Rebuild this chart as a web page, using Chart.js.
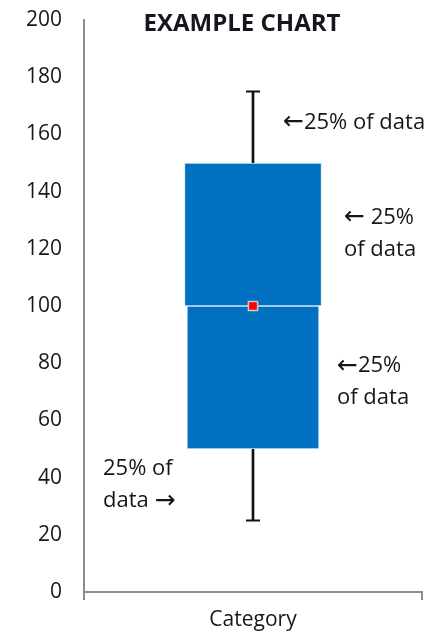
<!DOCTYPE html>
<html>
<head>
<meta charset="utf-8">
<script src="https://cdn.jsdelivr.net/npm/chart.js@4"></script>
<style>
  html, body { margin: 0; padding: 0; background: #fff; }
  #wrap { width: 448px; height: 636px; position: relative; }
</style>
</head>
<body>
<div id="wrap"><canvas id="chart"></canvas></div>
<script>
// Box plot example, drawn with floating bars + point markers

// --- Data
const categories = ["Category"];
const whiskerRange = [[25, 175]];   // min .. max
const upperBox = [[100, 150]];      // median .. Q3
const lowerBox = [[50, 100]];       // Q1 .. median
const capValues = [25, 175];        // whisker ends
const medianValues = [100];
const yTicks = [0, 20, 40, 60, 80, 100, 120, 140, 160, 180, 200];

const chartTitle = "EXAMPLE CHART";
const noteLines = [
  ["\u219025% of data"],
  ["\u2190 25%", "of data"],
  ["\u219025%", "of data"],
  ["25% of", "data \u2192"]
];

const FONT = "'Open Sans', 'DejaVu Sans', sans-serif";
const TEXT = "#16161e";
const AXIS = "#8c8c8c";
const BLUE = "#0070c0";

// arrows come from a fallback font and look tiny, draw them a bit bigger
function drawNote(ctx, text, x, y, size){
  const parts = text.split(/([\u2190\u2192])/).filter(Boolean);
  for (const p of parts){
    const isArrow = p === "\u2190" || p === "\u2192";
    ctx.font = isArrow ? `${Math.round(size * 1.15)}px 'DejaVu Sans', sans-serif` : `${size}px ${FONT}`;
    ctx.fillText(p, x, y);
    x += ctx.measureText(p).width;
  }
}

// --- Text overlay (title + notes)
const overlay = {
  id: "overlay",
  afterDraw(chart){
    const ctx = chart.ctx;
    const y = chart.scales.y;
    ctx.save();
    ctx.fillStyle = TEXT;
    ctx.textBaseline = "middle";

    ctx.font = `bold 24px ${FONT}`;
    ctx.textAlign = "center";
    ctx.fillText(chartTitle, 242, 24);

    ctx.textAlign = "left";
    // anchors: [left x, value on y axis for the first line]
    const anchors = [[283, 164], [344, 131], [337, 79], [103, 43]];
    noteLines.forEach((lines, i) => {
      const [x, v] = anchors[i];
      const top = y.getPixelForValue(v);
      lines.forEach((t, j) => drawNote(ctx, t, x, top + j * 32, 22));
    });
    ctx.restore();
  }
};

new Chart(document.getElementById("chart"), {
  type: "bar",
  data: {
    labels: categories,
    datasets: [
      {
        data: upperBox, backgroundColor: BLUE, borderColor: "#d6e6f5",
        borderWidth: 1, borderSkipped: false, barThickness: 137, grouped: false, order: 2
      },
      {
        data: lowerBox, backgroundColor: BLUE, borderColor: "#d6e6f5",
        borderWidth: 1, borderSkipped: false, barThickness: 132, grouped: false, order: 2
      },
      {
        data: whiskerRange, backgroundColor: "#111", barThickness: 2, grouped: false, order: 3
      },
      {
        type: "line", showLine: false, order: 1,
        data: capValues.map(v => ({ x: categories[0], y: v })),
        pointStyle: "line", pointRadius: 7, borderColor: "#111", borderWidth: 2
      },
      {
        type: "line", showLine: false, order: 0,
        data: medianValues.map(v => ({ x: categories[0], y: v })),
        pointStyle: "rect", pointRadius: 6.5, backgroundColor: "#ff0000",
        borderColor: "#c9c9d6", borderWidth: 1.5
      }
    ]
  },
  options: {
    responsive: true,
    maintainAspectRatio: false,
    animation: false,
    layout: { padding: { top: 20, right: 26, bottom: 0, left: 0 } },
    plugins: { legend: { display: false }, tooltip: { enabled: false } },
    scales: {
      x: {
        grid: { display: true, drawOnChartArea: false, drawTicks: true, tickLength: 8, color: AXIS, lineWidth: 2, offset: true },
        border: { display: true, color: AXIS, width: 2 },
        ticks: { font: { family: FONT, size: 21 }, color: TEXT, padding: 7 },
        afterFit: s => { s.height = 44; s.paddingLeft = 0; s.paddingRight = 0; }
      },
      y: {
        min: 0, max: 200,
        afterBuildTicks: s => { s.ticks = yTicks.map(v => ({ value: v })); },
        grid: { display: false, drawTicks: false },
        border: { display: true, color: AXIS, width: 2 },
        ticks: { font: { family: FONT, size: 21 }, color: TEXT, padding: 22 },
        afterFit: s => { s.width = 84; s.paddingTop = 0; s.paddingBottom = 0; }
      }
    }
  },
  plugins: [overlay]
});
</script>
</body>
</html>
